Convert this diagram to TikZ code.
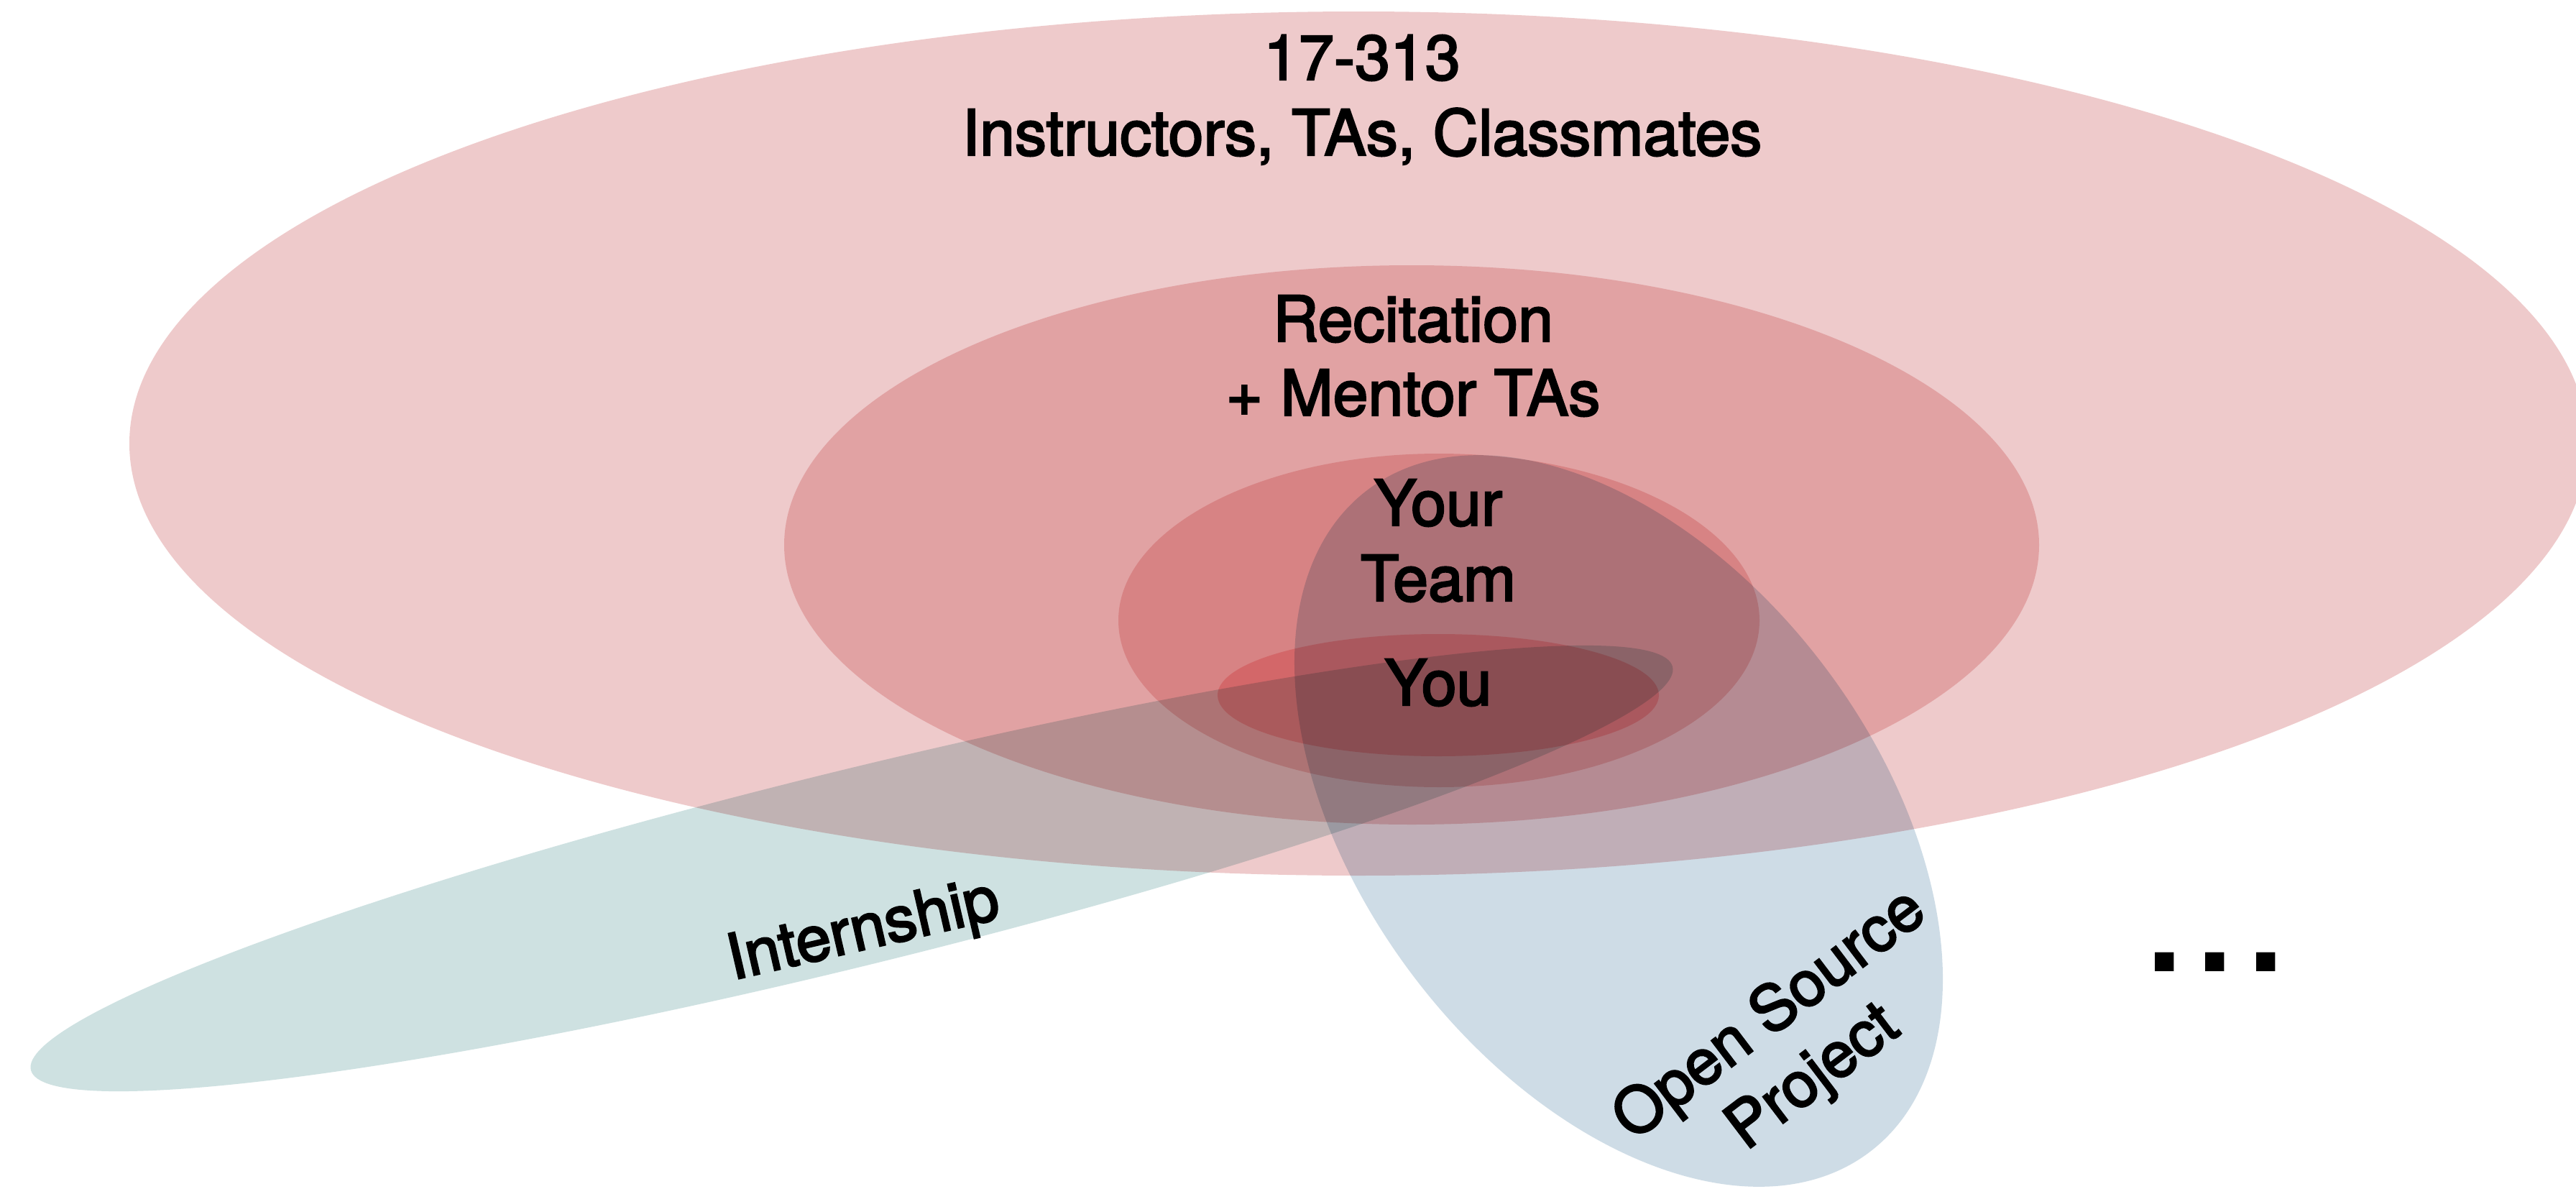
\documentclass[tikz,border=0pt]{standalone}
\usepackage{fontspec}
\setmainfont{TeX Gyre Heros}
\newcommand\heavytext[1]{\special{pdf:literal direct 2 Tr 0.7 w}#1\special{pdf:literal direct 0 Tr}}
\definecolor{pinkc}{RGB}{185,30,33}
\definecolor{youc}{RGB}{205,40,45}
\definecolor{internc}{RGB}{206,225,225}
\definecolor{openc}{RGB}{206,220,230}
\tikzset{
  layer/.style={fill=pinkc, fill opacity=0.23},
  youlayer/.style={fill=youc, fill opacity=0.30},
  lbl/.style={anchor=base, inner sep=0pt, font=\fontsize{25}{30}\selectfont, text=black},
  dots/.style={anchor=base, inner sep=0pt, font=\fontsize{72}{80}\selectfont, text=black}
}
\begin{document}
\begin{tikzpicture}
\useasboundingbox (0,0) rectangle (35.84,-16.54);
\clip (0,0) rectangle (35.84,-16.54);
\fill[white] (0,0) rectangle (35.84,-16.54);
% nested pink ellipses
\fill[layer] (18.90,-6.17) ellipse (17.10 and 6.01);
\fill[layer] (19.64,-7.58) ellipse (8.73 and 3.89);
\fill[layer] (20.02,-8.63) ellipse (4.46 and 2.32);
\fill[youlayer] (20.01,-9.67) ellipse (3.07 and 0.85);
% overlapping groups
\begin{scope}[blend mode=multiply]
  \fill[internc, shift={(11.85,-12.08)}, rotate=13.8] (0,0) ellipse (11.76 and 1.36);
  \fill[openc, shift={(22.52,-11.42)}, rotate=-52.8] (0,0) ellipse (5.78 and 3.58);
\end{scope}
% labels
\node[lbl] (course) at (18.95,-1.11) {\heavytext{17-313}};
\node[lbl] (people) at (18.95,-2.16) {\heavytext{Instructors, TAs, Classmates}};
\node[lbl] (recit) at (19.66,-4.75) {\heavytext{Recitation}};
\node[lbl] (mentor) at (19.66,-5.78) {\heavytext{+ Mentor TAs}};
\node[lbl] (your) at (20.01,-7.31) {\heavytext{Your}};
\node[lbl] (team) at (20.01,-8.36) {\heavytext{Team}};
\node[lbl] (you) at (20.01,-9.81) {\heavytext{You}};
\node[lbl, rotate=13] (intern) at (12.07,-13.20) {\heavytext{Internship}};
\node[lbl, rotate=37.2] (open) at (24.78,-14.32) {\heavytext{Open Source}};
\node[lbl, rotate=37.2] (project) at (25.38,-15.19) {\heavytext{Project}};
\node[dots] (more) at (30.82,-13.51) {...};
\end{tikzpicture}
\end{document}
